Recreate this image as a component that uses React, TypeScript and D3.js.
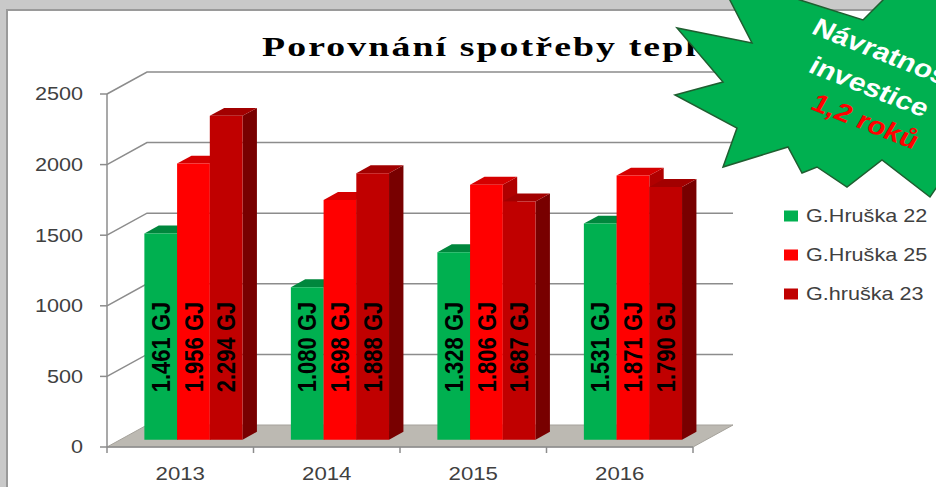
import React from 'react';
import * as d3 from 'd3';

const categories = ['2013', '2014', '2015', '2016'];
const seriesNames = ['G.Hruška 22', 'G.Hruška 25', 'G.hruška 23'];
const hruska22 = [1461, 1080, 1328, 1531];
const hruska25 = [1956, 1698, 1806, 1871];
const hruska23 = [2294, 1888, 1687, 1790];
const yTicks = [0, 500, 1000, 1500, 2000, 2500];
const titleText = 'Porovnání spotřeby tepla';
const badgeLines = ['Návratnost', 'investice'];
const badgeValue = '1,2 roků';

const W = 936;
const H = 487;
const SX = 1.2;
const DX = 40;
const DY = -22;
const ZF = 0.33;
const ZB = 0.69;
const seriesValues = [hruska22, hruska25, hruska23];
const palette = [
  { front: '#00b050', top: '#00873d', side: '#006b30' },
  { front: '#ff0000', top: '#d50000', side: '#b00000' },
  { front: '#c00000', top: '#a20000', side: '#780000' },
];

const locale = d3.formatLocale({ decimal: ',', thousands: '.', grouping: [3], currency: ['', ''] });
const fmt = locale.format(',d');

const starPts: [number, number][] = [
  [716, -27], [800, 0], [863, 20], [905, -22], [970, 20], [975, 95], [952, 165],
  [930, 197], [882, 160], [847, 187], [817, 167], [802, 173], [788, 147], [723, 167],
  [737, 128], [675, 95], [723, 82], [677, 28], [752, 43],
];

function T(props: any) {
  const { x, y, rot, sx, children, ...rest } = props;
  const r = rot ? ` rotate(${rot})` : '';
  return (
    <text transform={`translate(${x},${y}) scale(${sx ?? SX},1)${r}`} {...rest}>
      {children}
    </text>
  );
}

export default function App() {
  const y = d3.scaleLinear().domain([0, 2500]).range([447, 94]);
  const x0 = d3.scaleBand().domain(categories).range([107, 693]);
  const bw = x0.bandwidth();
  const gw = bw * 0.67;
  const x1 = d3.scaleBand().domain(seriesNames).range([(bw - gw) / 2, (bw + gw) / 2]);
  const P = (x: number, v: number, z: number) => [x + z * DX, y(v) + z * DY];
  const poly = (pts: number[][]) => pts.map((p) => p.join(',')).join(' ');
  const xL = x0.range()[0];
  const xR = x0.range()[1];
  const gridColor = '#8c8c8c';

  const bars: any[] = [];
  const labels: any[] = [];
  categories.forEach((c, i) => {
    seriesNames.forEach((s, j) => {
      const v = seriesValues[j][i];
      const xl = (x0(c) as number) + (x1(s) as number);
      const xr = xl + x1.bandwidth();
      const col = palette[j];
      bars.push(
        <g key={`${c}-${s}`}>
          <polygon points={poly([P(xr, 0, ZF), P(xr, v, ZF), P(xr, v, ZB), P(xr, 0, ZB)])} fill={col.side} />
          <polygon points={poly([P(xl, v, ZF), P(xr, v, ZF), P(xr, v, ZB), P(xl, v, ZB)])} fill={col.top} />
          <polygon points={poly([P(xl, v, ZF), P(xr, v, ZF), P(xr, 0, ZF), P(xl, 0, ZF)])} fill={col.front} />
        </g>
      );
      labels.push(
        <T key={`l-${c}-${s}`} x={(xl + xr) / 2 + ZF * DX} y={347} rot={-90}
          textAnchor="middle" dominantBaseline="central"
          fontFamily="'Liberation Sans', Arial, sans-serif" fontWeight="bold" fontSize={22} fill="#000">
          {`${fmt(v)} GJ`}
        </T>
      );
    });
  });

  return (
    <svg width={W} height={H} style={{ position: 'absolute', left: 0, top: 0 }}>
      <rect x={0} y={0} width={W} height={H} fill="#c9c9c9" />
      <rect x={7} y={10} width={W + 10} height={H + 10} fill="#ffffff" stroke="#9a9a9a" strokeWidth={2} />

      {/* title */}
      <T x={262} y={56} sx={1.4} fontFamily="'Liberation Serif', 'Times New Roman', serif" fontWeight="bold"
        fontSize={27} letterSpacing={1.5} fill="#000">{titleText}</T>

      {/* floor */}
      <polygon points={poly([P(xL, 0, 0), P(xR, 0, 0), P(xR, 0, 1), P(xL, 0, 1)])}
        fill="#bcb9b2" stroke="#a5a29b" strokeWidth={1} />

      {/* walls gridlines */}
      {yTicks.filter((t) => t > 0).map((t) => (
        <g key={`g-${t}`}>
          <polyline points={poly([P(xL, t, 0), P(xL, t, 1), P(xR, t, 1)])} fill="none" stroke={gridColor} strokeWidth={1.5} />
        </g>
      ))}

      {/* y axis */}
      <line x1={xL} x2={xL} y1={y(0)} y2={y(2500)} stroke={gridColor} strokeWidth={1.5} />
      {yTicks.map((t) => (
        <g key={`yt-${t}`}>
          <line x1={xL - 7} x2={xL} y1={y(t)} y2={y(t)} stroke={gridColor} strokeWidth={1.5} />
          <T x={83} y={y(t)} textAnchor="end" dominantBaseline="central"
            fontFamily="'Liberation Sans', Arial, sans-serif" fontSize={18} fill="#404040">{t}</T>
        </g>
      ))}

      {/* x axis */}
      <line x1={xL} x2={xR} y1={y(0)} y2={y(0)} stroke={gridColor} strokeWidth={1.5} />
      {[...categories.map((c) => x0(c) as number), xR].map((xv, k) => (
        <line key={`xt-${k}`} x1={xv} x2={xv} y1={y(0)} y2={y(0) + 6} stroke={gridColor} strokeWidth={1.5} />
      ))}
      {categories.map((c) => (
        <T key={`xl-${c}`} x={(x0(c) as number) + bw / 2} y={480} textAnchor="middle"
          fontFamily="'Liberation Sans', Arial, sans-serif" fontSize={18.5} fill="#404040">{c}</T>
      ))}

      {bars}
      {labels}

      {/* legend */}
      {seriesNames.map((s, j) => (
        <g key={`lg-${s}`}>
          <rect x={784} y={[216, 255, 294][j] - 5.5} width={14} height={11} fill={palette[j].front} />
          <T x={806} y={[216, 255, 294][j]} dominantBaseline="central"
            fontFamily="'Liberation Sans', Arial, sans-serif" fontSize={18} fill="#404040">{s}</T>
        </g>
      ))}

      {/* badge */}
      <polygon points={poly(starPts)} fill="#00b050" stroke="#1f5e30" strokeWidth={1.5} />
      <T x={881} y={61} rot={25.4} textAnchor="middle" fontFamily="'Liberation Sans', Arial, sans-serif"
        fontWeight="bold" fontSize={25} fill="#ffffff">{badgeLines[0]}</T>
      <T x={865} y={94.5} rot={25.4} textAnchor="middle" fontFamily="'Liberation Sans', Arial, sans-serif"
        fontWeight="bold" fontSize={25} fill="#ffffff">{badgeLines[1]}</T>
      <T x={861} y={129} rot={25.4} textAnchor="middle" fontFamily="'Liberation Sans', Arial, sans-serif"
        fontWeight="bold" fontSize={25} fill="#ff0000">{badgeValue}</T>
    </svg>
  );
}
